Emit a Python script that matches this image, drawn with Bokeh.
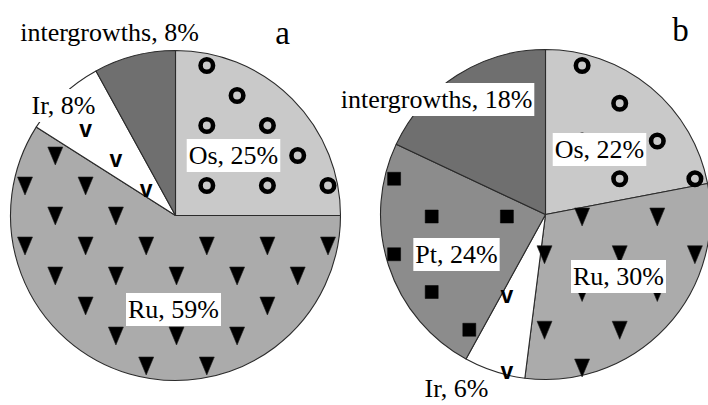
import math
from bokeh.plotting import figure
from bokeh.models import Range1d, ColumnDataSource
from bokeh.core.properties import value
from bokeh.embed import file_html
from bokeh.resources import INLINE

# ---------------- data ----------------
minerals_a = ["Os", "Ru", "Ir", "intergrowths"]
shares_a = [25, 59, 8, 8]
minerals_b = ["Os", "Ru", "Ir", "Pt", "intergrowths"]
shares_b = [22, 30, 6, 24, 18]
panel_letters = ["a", "b"]

# ---------------- styles ----------------
FILL = {"Os": "#c9c9c9", "Ru": "#ababab", "Ir": "#ffffff",
        "Pt": "#8c8c8c", "intergrowths": "#6f6f6f"}
PATTERN = {"Os": "ring", "Ru": "tri", "Ir": "v", "Pt": "square",
           "intergrowths": None}

PAGE_H = 405  # screen -> data (y up)
TEXT_SHIFT = 8  # compensation for renderer baseline placement


def sy(y_screen):
    return PAGE_H - y_screen


pies = [
    dict(names=minerals_a, shares=shares_a, cx=175, cy=215, r=165,
         gx=176, gy=215, dx=30.3, dy=30.0, parity=0,
         letter=(282, 40),
         labels={"Os": (233, 163), "Ru": (173, 317), "Ir": (63, 113),
                 "intergrowths": (109, 40)}),
    dict(names=minerals_b, shares=shares_b, cx=545, cy=214, r=165,
         gx=544, gy=216, dx=37.6, dy=37.75, parity=1,
         letter=(680, 37),
         labels={"Os": (599, 157), "Ru": (618, 284), "Pt": (456, 262),
                 "Ir": (456, 396), "intergrowths": (436, 107)}),
]

W, H = 708, 405
p = figure(width=W, height=H, x_range=Range1d(0, W), y_range=Range1d(0, H),
           output_backend="svg", toolbar_location=None, min_border=0,
           x_axis_location=None, y_axis_location=None)
p.grid.visible = False
p.outline_line_color = None
p.background_fill_color = "white"
p.border_fill_color = "white"


def in_slice(dxp, dyp, a0, a1, rmax, margin):
    d = math.hypot(dxp, dyp)
    if d > rmax:
        return False
    ang = math.atan2(dyp, dxp)
    while ang < a1:
        ang += 2 * math.pi
    while ang >= a1 + 2 * math.pi:
        ang -= 2 * math.pi
    if not (a1 < ang < a0):
        return False
    for a in (a0, a1):
        ux, uy = math.cos(a), math.sin(a)
        t = dxp * ux + dyp * uy
        dist = d if t < 0 else abs(dxp * uy - dyp * ux)
        if dist < margin:
            return False
    return True


for k, pie in enumerate(pies):
    cx, cy = pie["cx"], sy(pie["cy"])
    total = float(sum(pie["shares"]))
    starts, ends, colors = [], [], []
    cum = 0.0
    for nm, sh in zip(pie["names"], pie["shares"]):
        a0 = math.pi / 2 - 2 * math.pi * cum / total
        a1 = math.pi / 2 - 2 * math.pi * (cum + sh) / total
        starts.append(a0)
        ends.append(a1)
        colors.append(FILL[nm])
        cum += sh
    src = ColumnDataSource(dict(x=[cx] * len(starts), y=[cy] * len(starts),
                                start=starts, end=ends, color=colors))
    p.wedge(x="x", y="y", radius=pie["r"], start_angle="start", end_angle="end",
            direction="clock", fill_color="color", line_color="#2b2b2b",
            line_width=1.1, source=src)

    # pattern markers
    rings_x, rings_y, sq_x, sq_y, v_x, v_y = [], [], [], [], [], []
    tri_xs, tri_ys = [], []
    for nm, a0, a1 in zip(pie["names"], starts, ends):
        pat = PATTERN[nm]
        if pat is None:
            continue
        for j in range(-7, 8):
            for m in range(-7, 8):
                if (m + j) % 2 != pie["parity"]:
                    continue
                px = pie["gx"] + m * pie["dx"]
                py = sy(pie["gy"] + j * pie["dy"])
                if not in_slice(px - cx, py - cy, a0, a1, pie["r"] - 6, 3):
                    continue
                if pat == "ring":
                    rings_x.append(px); rings_y.append(py)
                elif pat == "square":
                    sq_x.append(px); sq_y.append(py)
                elif pat == "v":
                    v_x.append(px); v_y.append(py - 3)
                elif pat == "tri":
                    tri_xs.append([px - 7.5, px + 7.5, px])
                    tri_ys.append([py + 8.5, py + 8.5, py - 9.5])
    if rings_x:
        p.scatter(rings_x, rings_y, marker="circle", size=12.5, fill_alpha=0,
                  line_color="black", line_width=4.6)
    if sq_x:
        p.scatter(sq_x, sq_y, marker="square", size=13, fill_color="black",
                  line_color="black", line_width=0.5)
    if tri_xs:
        p.patches(tri_xs, tri_ys, fill_color="black", line_color="#202020",
                  line_width=0.6)
    if v_x:
        p.text(v_x, v_y, text=["v"] * len(v_x), text_font=value("Liberation Sans"),
               text_font_style="bold", text_font_size="23px", text_align="center",
               text_baseline="alphabetic", text_color="black")

    # labels
    lx, ly, lt = [], [], []
    for nm, sh in zip(pie["names"], pie["shares"]):
        x0, y0 = pie["labels"][nm]
        lx.append(x0); ly.append(sy(y0 - TEXT_SHIFT)); lt.append(f"{nm}, {sh}%")
    p.text(lx, ly, text=lt, text_font=value("Liberation Serif"),
           text_font_size="26px", text_align="center", text_baseline="alphabetic",
           text_color="black", background_fill_color="white", padding=2)

    # panel letter
    lxl, lyl = pie["letter"]
    p.text([lxl], [sy(lyl - TEXT_SHIFT)], text=[panel_letters[k]],
           text_font=value("Liberation Serif"),
           text_font_size="33px", text_align="center", text_baseline="alphabetic",
           text_color="black")

open("out.html", "w").write(file_html(p, INLINE))
